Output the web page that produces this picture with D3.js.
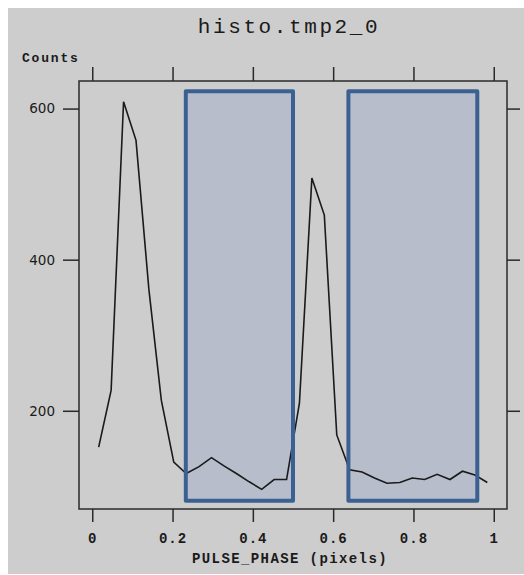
<!DOCTYPE html>
<html>
<head>
<meta charset="utf-8">
<script src="https://cdn.jsdelivr.net/npm/d3@7"></script>
<style>
  body { margin: 0; background: #fff; }
  .mono { font-family: "Liberation Mono", "Courier New", monospace; fill: #1a1a1a; }
  .ylab { font-family: "DejaVu Sans", sans-serif; font-size: 13.5px; fill: #1a1a1a; }
</style>
</head>
<body>
<div id="vis"></div>
<script>
// histogram bins (pulse phase centre, counts)
const phase = [0.016, 0.047, 0.078, 0.109, 0.141, 0.172, 0.203, 0.234,
               0.266, 0.297, 0.328, 0.359, 0.391, 0.422, 0.453, 0.484,
               0.516, 0.547, 0.578, 0.609, 0.641, 0.672, 0.703, 0.734,
               0.766, 0.797, 0.828, 0.859, 0.891, 0.922, 0.953, 0.984];
const counts = [152, 227, 609, 558, 361, 214, 132, 117,
                126, 138, 127, 117, 106, 96, 109, 109,
                210, 508, 459, 168, 122, 119, 111, 104,
                105, 111, 109, 116, 109, 120, 115, 105];

// selected phase regions
const regionStart = [0.233, 0.638];
const regionEnd = [0.5, 0.959];
const regionCounts = [81, 623];

const xTicks = [0, 0.2, 0.4, 0.6, 0.8, 1];
const xTickLabels = ["0", "0.2", "0.4", "0.6", "0.8", "1"];
const yTicks = [200, 400, 600];

const W = 524, H = 575;
const plotLeft = 79, plotRight = 507, plotTop = 81, plotBottom = 509;

const svg = d3.select("#vis").append("svg").attr("width", W).attr("height", H);

svg.append("rect").attr("x", 8).attr("y", 8).attr("width", W - 8).attr("height", H - 9)
  .attr("fill", "#cdcdcd");

const x = d3.scaleLinear().domain([-0.033, 1.033]).range([plotLeft, plotRight]);
const y = d3.scaleLinear().domain([70, 636.5]).range([plotBottom, plotTop]);

// regions fill
const regions = regionStart.map((s, i) => ({s: s, e: regionEnd[i]}));
svg.selectAll("rect.region").data(regions).enter().append("rect")
  .attr("class", "region")
  .attr("x", d => x(d.s)).attr("y", y(regionCounts[1]))
  .attr("width", d => x(d.e) - x(d.s))
  .attr("height", y(regionCounts[0]) - y(regionCounts[1]))
  .attr("fill", "#b7bdca");

// histogram line
const pts = phase.map((p, i) => [p, counts[i]]);
svg.append("path").datum(pts)
  .attr("d", d3.line().x(d => x(d[0])).y(d => y(d[1])))
  .attr("fill", "none").attr("stroke", "#1a1a1a").attr("stroke-width", 1.6);

// region outlines
svg.selectAll("rect.outline").data(regions).enter().append("rect")
  .attr("class", "outline")
  .attr("x", d => x(d.s)).attr("y", y(regionCounts[1]))
  .attr("width", d => x(d.e) - x(d.s))
  .attr("height", y(regionCounts[0]) - y(regionCounts[1]))
  .attr("fill", "none").attr("stroke", "#3b6192").attr("stroke-width", 4)
  .attr("stroke-linejoin", "round");

// frame
svg.append("rect").attr("x", plotLeft).attr("y", plotTop)
  .attr("width", plotRight - plotLeft).attr("height", plotBottom - plotTop)
  .attr("fill", "none").attr("stroke", "#2a2a2a").attr("stroke-width", 1.5);

function styleAxis(g) {
  g.select(".domain").remove();
  g.selectAll(".tick line").attr("stroke", "#2a2a2a").attr("stroke-width", 1.5);
}

const xb = svg.append("g").attr("transform", `translate(0,${plotBottom})`)
  .call(d3.axisBottom(x).tickValues(xTicks).tickSize(13).tickFormat((d, i) => xTickLabels[i]))
  .call(styleAxis);
xb.selectAll(".tick text").attr("class", "mono").attr("y", 24)
  .attr("font-size", 14).attr("font-weight", "bold").attr("letter-spacing", 1)
  .attr("dy", "0.71em").attr("fill", "#1a1a1a");

svg.append("g").attr("transform", `translate(0,${plotTop})`)
  .call(d3.axisTop(x).tickValues(xTicks).tickSize(14).tickFormat(""))
  .call(styleAxis);

const yl = svg.append("g").attr("transform", `translate(${plotLeft},0)`)
  .call(d3.axisLeft(y).tickValues(yTicks).tickSize(16).tickPadding(8))
  .call(styleAxis);
yl.selectAll(".tick text").attr("class", "ylab").attr("fill", "#1a1a1a");

svg.append("g").attr("transform", `translate(${plotRight},0)`)
  .call(d3.axisRight(y).tickValues(yTicks).tickSize(13).tickFormat(""))
  .call(styleAxis);

// titles
svg.append("text").attr("class", "mono").attr("x", 289).attr("y", 33)
  .attr("text-anchor", "middle").attr("font-size", 21).attr("letter-spacing", 2.6)
  .text("histo.tmp2_0");

svg.append("text").attr("class", "mono").attr("x", 22).attr("y", 62)
  .attr("font-size", 13).attr("font-weight", "bold").attr("letter-spacing", 1.8)
  .text("Counts");

svg.append("text").attr("class", "mono").attr("x", 290).attr("y", 563)
  .attr("text-anchor", "middle").attr("font-size", 14).attr("font-weight", "bold")
  .attr("letter-spacing", 1.4)
  .text("PULSE_PHASE (pixels)");
</script>
</body>
</html>
